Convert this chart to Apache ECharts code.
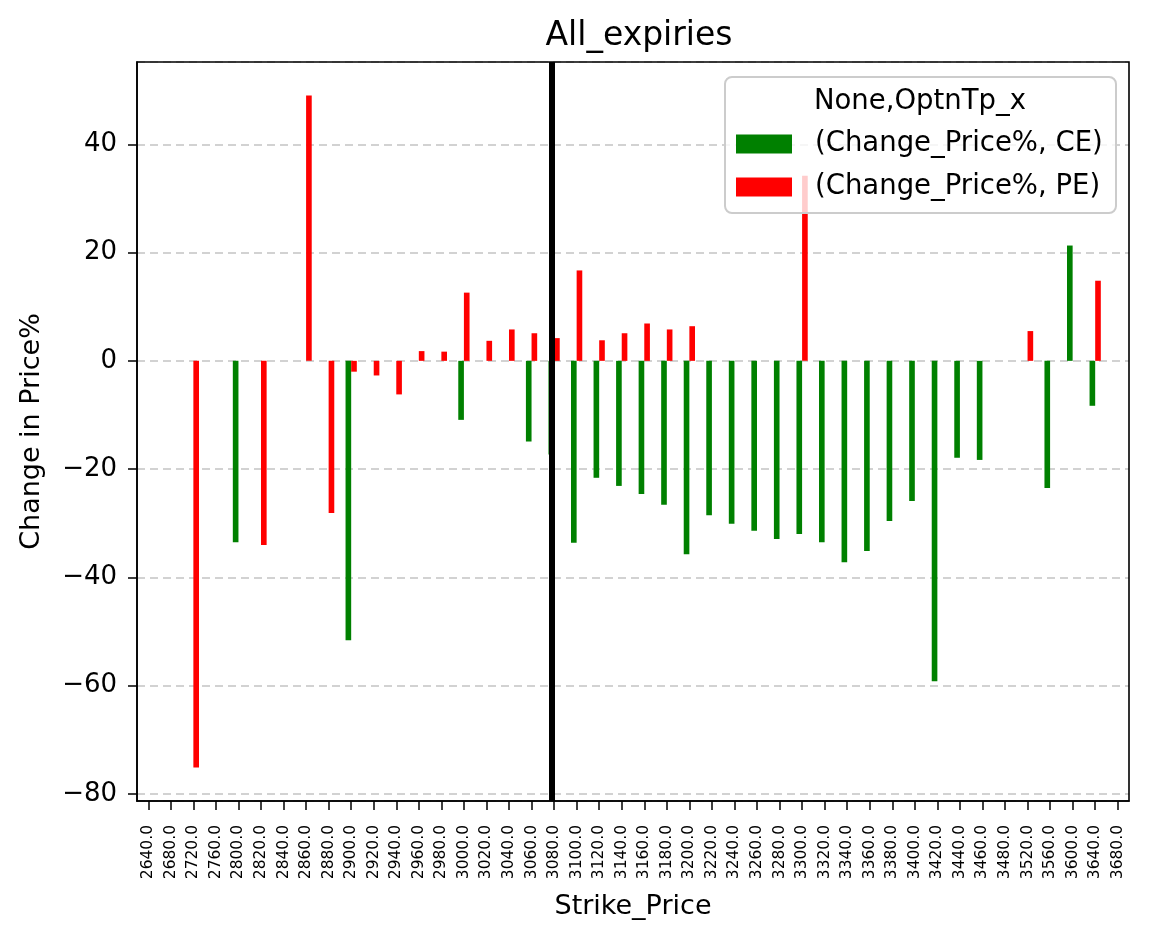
<!DOCTYPE html>
<html>
<head>
<meta charset="utf-8">
<script src="https://cdn.jsdelivr.net/npm/echarts@6/dist/echarts.min.js"></script>
<style>
html,body{margin:0;padding:0;background:#fff;}
#chart{width:1149px;height:939px;}
</style>
</head>
<body>
<div id="chart"></div>
<script>
const strikes = ['2640.0','2680.0','2720.0','2760.0','2800.0','2820.0','2840.0','2860.0','2880.0','2900.0',
  '2920.0','2940.0','2960.0','2980.0','3000.0','3020.0','3040.0','3060.0','3080.0','3100.0',
  '3120.0','3140.0','3160.0','3180.0','3200.0','3220.0','3240.0','3260.0','3280.0','3300.0',
  '3320.0','3340.0','3360.0','3380.0','3400.0','3420.0','3440.0','3460.0','3480.0','3520.0',
  '3560.0','3600.0','3640.0','3680.0'];
const ceValues = [null,null,null,null,-33.5,null,null,null,null,-51.6,
  null,null,null,null,-10.9,null,null,-14.9,-17.3,-33.6,
  -21.6,-23.1,-24.6,-26.6,-35.7,-28.5,-30.1,-31.4,-32.9,-32.0,
  -33.5,-37.2,-35.1,-29.6,-25.9,-59.2,-17.9,-18.3,null,null,
  -23.5,21.3,-8.3,null];
const peValues = [null,null,-75.1,null,null,-34.0,null,49.0,-28.1,-2.0,
  -2.7,-6.2,1.8,1.7,12.6,3.7,5.8,5.1,4.2,16.7,
  3.8,5.1,6.9,5.8,6.4,null,null,null,null,34.2,
  null,null,null,null,null,null,null,null,null,5.5,
  null,null,14.8,null];
const spotStrike = '3080.0';
const seriesNames = ['(Change_Price%, CE)','(Change_Price%, PE)'];
const legendTitle = 'None,OptnTp_x';
const chartTitle = 'All_expiries';
const xName = 'Strike_Price';
const yName = 'Change in Price%';

const FONT = 'DejaVu Sans';
const chart = echarts.init(document.getElementById('chart'), null, {renderer:'canvas'});
chart.setOption({
  animation:false,
  backgroundColor:'#fff',
  title:{text:chartTitle,left:634,top:15,textAlign:'center',
    textStyle:{fontFamily:FONT,fontSize:33,fontWeight:'normal',color:'#000'}},
  grid:{left:137,right:20,top:62,bottom:138,show:false},
  legend:{
    orient:'vertical',left:736,top:129,padding:0,itemWidth:56,itemHeight:19,itemGap:13,
    icon:'rect',z:120,
    textStyle:{fontFamily:FONT,fontSize:27.5,color:'#000',lineHeight:30,padding:[0,0,0,18]},
    data:seriesNames
  },
  graphic:[
    {type:'rect',z:90,shape:{x:137,y:62,width:992,height:739},
      style:{fill:'none',stroke:'#000',lineWidth:1.6}},
    {type:'rect',z:100,shape:{x:725,y:77,width:391,height:136,r:7},
      style:{fill:'rgba(255,255,255,0.8)',stroke:'#cccccc',lineWidth:2}},
    {type:'text',z:101,x:920,y:102,
      style:{text:legendTitle,fill:'#000',font:'27.5px "DejaVu Sans"',align:'center',verticalAlign:'middle'}}
  ],
  xAxis:{
    type:'category',data:strikes,boundaryGap:true,
    name:xName,nameLocation:'middle',nameGap:92,
    nameTextStyle:{fontFamily:FONT,fontSize:27,color:'#000'},
    axisLine:{show:true,onZero:false,lineStyle:{color:'#000',width:1.6}},
    axisTick:{show:true,alignWithLabel:true,length:9,lineStyle:{color:'#000',width:1.5}},
    axisLabel:{rotate:90,interval:0,margin:24,fontFamily:FONT,fontSize:15.5,color:'#000'},
    splitLine:{show:false}
  },
  yAxis:{
    type:'value',min:-81.3,max:55.2,splitNumber:7,
    name:yName,nameLocation:'middle',nameGap:92,nameRotate:90,
    nameTextStyle:{fontFamily:FONT,fontSize:27,color:'#000'},
    axisLine:{show:true,lineStyle:{color:'#000',width:1.6}},
    axisTick:{show:true,length:9,lineStyle:{color:'#000',width:1.5}},
    axisLabel:{showMinLabel:false,showMaxLabel:false,margin:20,fontFamily:FONT,fontSize:26,color:'#000',
      formatter:function(v){ if (Math.abs(v - Math.round(v))>1e-6) return ''; return String(v).replace('-','\u2212'); }},
    splitLine:{show:true,lineStyle:{color:'#c4c4c4',width:1.5,type:[8,5]}}
  },
  series:[
    {name:seriesNames[0],type:'bar',data:ceValues,barWidth:'25%',barGap:'0%',
      itemStyle:{color:'#008000'},z:2,
      markLine:{silent:true,symbol:'none',label:{show:false},z:5,
        lineStyle:{color:'#000',width:6,type:'solid'},
        data:[{xAxis:spotStrike}]}},
    {name:seriesNames[1],type:'bar',data:peValues,barWidth:'25%',barGap:'0%',
      itemStyle:{color:'#ff0000'},z:2}
  ]
});
</script>
</body>
</html>
